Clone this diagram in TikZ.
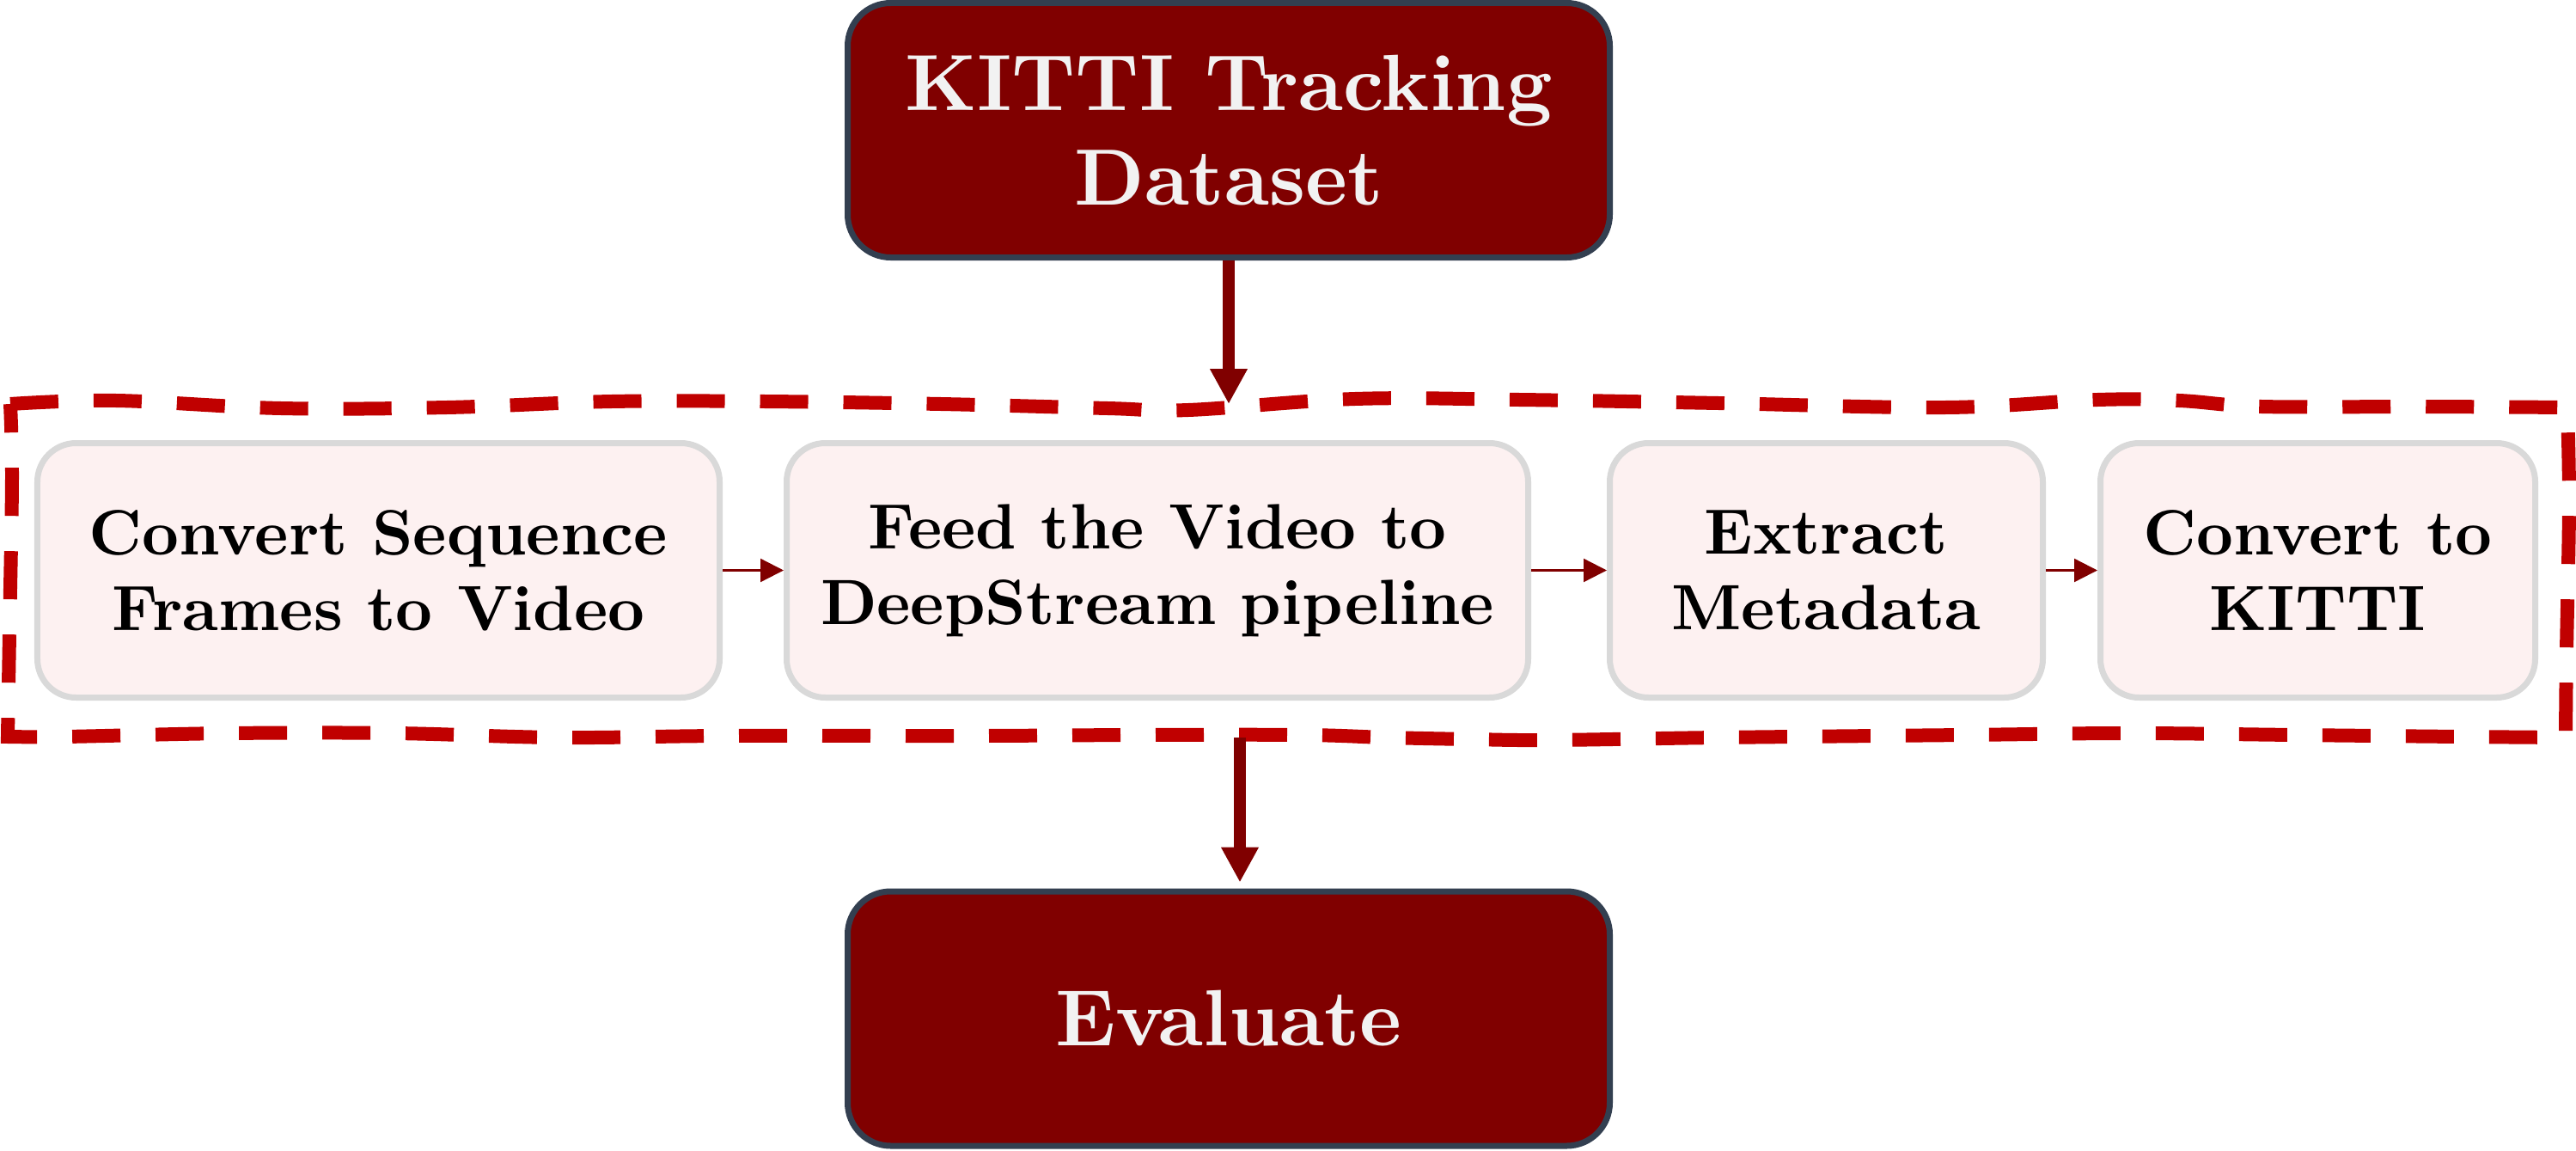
\documentclass[tikz,border=0pt]{standalone}
\usepackage{fontspec}
\newfontfamily\boxfont{lmroman10-bold}[Extension=.otf]
\usetikzlibrary{arrows.meta}

\definecolor{boxred}{HTML}{800000}
\definecolor{boxedge}{HTML}{333F50}
\definecolor{boxtext}{HTML}{F2F2F2}
\definecolor{steppink}{HTML}{FDF1F1}
\definecolor{stepedge}{HTML}{D9D9D9}
\definecolor{framered}{HTML}{C00000}

\tikzset{
  endbox/.style={
    draw=boxedge, fill=boxred, line width=0.7mm, rounded corners=5mm,
    text=boxtext, align=center, minimum width=8.87cm, minimum height=2.96cm,
    font=\boxfont\fontsize{26.4pt}{31.5pt}\selectfont,
  },
  stepbox/.style={
    draw=stepedge, fill=steppink, line width=0.7mm, rounded corners=4.5mm,
    align=center, minimum height=2.96cm,
    font=\boxfont\fontsize{21.2pt}{25pt}\selectfont,
  },
  bigarrow/.style={
    draw=boxred, line width=1.4mm, -{Triangle[length=4.1mm,width=4.1mm]},
  },
  smallarrow/.style={
    draw=boxred, line width=0.23mm, -{Triangle[length=2.7mm,width=2.7mm]},
  },
  stageframe/.style={
    draw=framered, line width=1.6mm, dash pattern=on 5.6mm off 4.1mm,
  },
}

\begin{document}
\begin{tikzpicture}
    \useasboundingbox (0,0) rectangle (29.98,13.38);

    % input and output
    \node[endbox] (kitti)    at (14.30,11.865) {KITTI Tracking\\Dataset};
    \node[endbox] (evaluate) at (14.30,1.53)   {Evaluate};

    % pipeline steps
    \node[stepbox, minimum width=7.94cm] (convert)  at (4.405,6.745)  {Convert Sequence\\Frames to Video};
    \node[stepbox, minimum width=8.63cm] (feed)     at (13.47,6.745)  {Feed the Video to\\DeepStream pipeline};
    \node[stepbox, minimum width=5.04cm] (extract)  at (21.255,6.745) {Extract\\Metadata};
    \node[stepbox, minimum width=5.06cm] (tokitti)  at (26.975,6.745) {Convert to\\KITTI};

    % hand-drawn dashed frame round the steps (top, right, bottom, left)
    \draw[stageframe]
        plot[smooth, tension=0.6] coordinates {(0.12,8.68) (1.35,8.72) (3.27,8.63) (5.20,8.64)
            (7.12,8.71) (8.90,8.71) (10.95,8.68) (12.89,8.63) (13.83,8.61) (15.77,8.74)
            (17.68,8.73) (20.00,8.69) (22.64,8.64) (24.41,8.73) (25.36,8.72) (26.32,8.65)
            (28.22,8.65) (29.88,8.64)}
        -- plot[smooth, tension=0.6] coordinates {(29.88,8.64) (29.90,7.50) (29.87,5.80) (29.86,4.80)}
        -- plot[smooth, tension=0.6] coordinates {(29.86,4.80) (28.63,4.81) (26.70,4.83) (24.79,4.85)
            (22.86,4.83) (20.00,4.80) (18.05,4.77) (17.11,4.78) (16.14,4.80) (15.17,4.83)
            (13.26,4.83) (11.32,4.82) (8.44,4.82) (6.52,4.80) (4.59,4.85) (2.67,4.85)
            (0.75,4.81) (0.09,4.81)}
        -- plot[smooth, tension=0.6] coordinates {(0.09,4.81) (0.11,6.00) (0.14,7.80) (0.12,8.68)};
    \coordinate (frametop) at (14.30,8.68);
    \coordinate (framebot) at (14.43,4.80);

    % connectors
    \draw[bigarrow] (kitti) -- (frametop);
    \draw[bigarrow, shorten >=0.7mm] (framebot) -- (framebot |- evaluate.north);
    \draw[smallarrow] (convert) -- (feed);
    \draw[smallarrow] (feed) -- (extract);
    \draw[smallarrow] (extract) -- (tokitti);
\end{tikzpicture}
\end{document}
